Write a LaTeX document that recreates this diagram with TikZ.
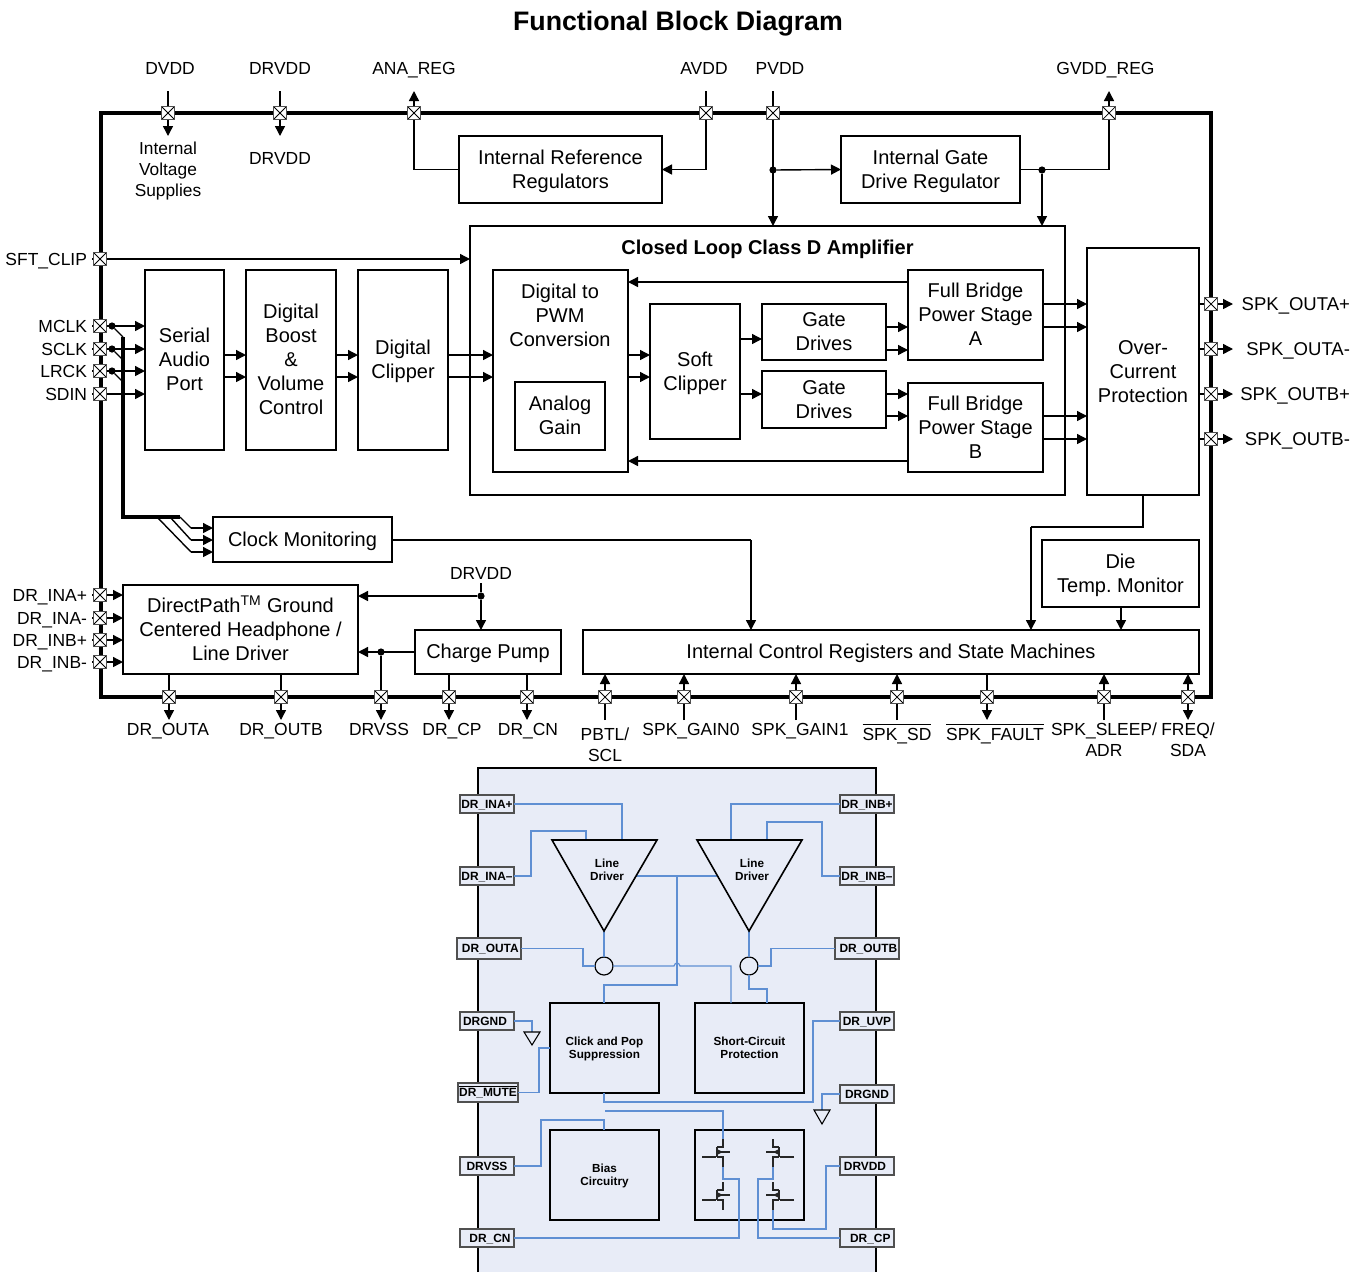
\documentclass[tikz,border=0pt]{standalone}
\usepackage{fontspec}
\setmainfont{Liberation Sans}
\usetikzlibrary{arrows.meta,calc}
\definecolor{panelc}{HTML}{E8ECF7}
\definecolor{wirec}{HTML}{5F8FD3}
\definecolor{padc}{HTML}{505050}
\newcommand\ovl[2][1.4pt]{\leavevmode\vbox{\hrule height 0.7pt\kern#1\hbox{#2}}}
\newcommand\blk[6]{\node[blockbox,minimum width={(#4-#2)*0.75pt},minimum height={(#5-#3)*0.75pt}] (#1) at ({(#2+#4)/2},{(#3+#5)/2}) {\raisebox{-1.3pt}[\height][\depth]{\begin{tabular}{@{}c@{}}#6\end{tabular}}};}
\newcommand\sblk[6]{\node[smallbox,minimum width={(#4-#2)*0.75pt},minimum height={(#5-#3)*0.75pt}] (#1) at ({(#2+#4)/2},{(#3+#5)/2}) {\raisebox{-1.0pt}[\height][\depth]{\begin{tabular}{@{}c@{}}#6\end{tabular}}};}
\newcommand\tagg[6]{\node[tagbox,minimum width={(#4-#2)*0.75pt},minimum height={(#5-#3)*0.75pt}] (#1) at ({(#2+#4)/2},{(#3+#5)/2}) {#6};}
\newcommand\padat[3]{\node[padbox] (#1) at (#2,#3) {};}
\newcommand\fet[4]{%
\begin{scope}[shift={(#2,#3)},xscale=#4,fetline]
\coordinate (#1d) at (0,-18);
\coordinate (#1s) at (0,10);
\draw (-21,0) -- (-7,0);
\draw[line width=1.2pt] (-6,-10) -- (-6,0);
\draw (-6,-10) -- (0,-10) -- (#1d);
\draw (-6,0) -- (0,0) -- (#1s);
\draw (-6,-5) -- (7,-5);
\draw[-{Triangle[length=4.4pt,width=4pt]}] (-6,-5) -- (0,-5);
\end{scope}}
\tikzset{
 x=0.75pt,y=-0.75pt,
 blockbox/.style={draw=black,fill=white,line width=1.1pt,inner sep=0pt,outer sep=0pt,font=\fontsize{15}{18}\selectfont},
 smallbox/.style={draw=black,fill=none,line width=1.2pt,inner sep=0pt,outer sep=0pt,font=\bfseries\fontsize{8.8}{9.75}\selectfont},
 tagbox/.style={draw=padc,fill=panelc,line width=1pt,inner sep=0pt,outer sep=0pt,text height=6.3pt,text depth=0pt,font=\bfseries\fontsize{8.95}{10}\selectfont},
 padbox/.style={draw=padc,fill=white,line width=.75pt,minimum size=10.4pt,inner sep=0pt,outer sep=0pt,
   path picture={\draw[black,line width=.55pt] (path picture bounding box.south west) -- (path picture bounding box.north east) (path picture bounding box.north west) -- (path picture bounding box.south east);}},
 lab/.style={inner sep=0pt,outer sep=0pt,align=center,font=\fontsize{13.1}{15.8}\selectfont},
 lbl/.style={lab,anchor=base,yshift=-4.7pt},
 lble/.style={lab,anchor=base east,yshift=-4.7pt},
 lblr/.style={lble,font=\fontsize{13.9}{16}\selectfont},
 txt/.style={inner sep=0pt,outer sep=0pt,align=center,font=\fontsize{15}{18}\selectfont},
 wire/.style={line width=1.05pt,black},
 arr/.style={line width=1.05pt,black,-{Triangle[length=7.5pt,width=7.5pt]}},
 dot/.style={circle,fill=black,inner sep=0pt,outer sep=0pt,minimum size=5.4pt},
 busline/.style={line width=2.4pt,black},
 bluew/.style={line width=.9pt,wirec},
 fetline/.style={line width=.85pt,black!85},
}
\begin{document}
\begin{tikzpicture}
\useasboundingbox (0,0) rectangle (1364,1272);
\node[inner sep=0pt,anchor=base,yshift=-7.2pt,font=\bfseries\fontsize{20.05}{22}\selectfont] (title) at (678,21) {Functional Block Diagram};
% chip outline
\coordinate (o1) at (101,113); \coordinate (o2) at (1211,697);
\draw[line width=2.4pt,black] (o1) rectangle (o2);
% lower panel
\coordinate (pa) at (478,1272); \coordinate (pb) at (478,768); \coordinate (pc) at (876,768); \coordinate (pd) at (876,1272);
\fill[panelc] (pa) -- (pb) -- (pc) -- (pd) -- cycle;
\draw[line width=1.5pt,black] (pa) -- (pb) -- (pc) -- (pd);
% blocks
\blk{irr}{459}{136}{662}{203}{Internal Reference\\Regulators}
\blk{igd}{841}{136}{1020}{203}{Internal Gate\\Drive Regulator}
\blk{cl}{470}{226}{1065}{495}{}
\node[inner sep=0pt,anchor=base,yshift=-5.4pt,font=\bfseries\fontsize{15}{18}\selectfont] (cltitle) at (767.5,247) {Closed Loop Class D Amplifier};
\blk{sap}{145}{270}{224}{450}{Serial\\Audio\\Port}
\blk{boost}{246}{270}{336}{450}{Digital\\Boost\\\&\\Volume\\Control}
\blk{clip}{358}{270}{448}{450}{Digital\\Clipper}
\blk{pwm}{493}{270}{628}{472}{}
\node[txt] (pwmt) at (560,315) {Digital to\\PWM\\Conversion};
\blk{gain}{515}{382}{605}{450}{Analog\\Gain}
\blk{soft}{650}{304}{740}{439}{Soft\\Clipper}
\blk{gda}{762}{304}{886}{360}{Gate\\Drives}
\blk{gdb}{762}{371}{886}{428}{Gate\\Drives}
\blk{fba}{908}{270}{1043}{360}{Full Bridge\\Power Stage\\A}
\blk{fbb}{908}{383}{1043}{472}{Full Bridge\\Power Stage\\B}
\blk{ocp}{1087}{248}{1199}{495}{Over-\\Current\\Protection}
\blk{clkm}{213}{517}{392}{562}{Clock Monitoring}
\blk{dp}{123}{585}{358}{674}{DirectPath\smash{\textsuperscript{TM}} Ground\\Centered Headphone /\\Line Driver}
\blk{cp}{415}{630}{561}{674}{Charge Pump}
\blk{icr}{583}{630}{1199}{674}{Internal Control Registers and State Machines}
\blk{die}{1042}{540}{1199}{607}{Die\\Temp.\ Monitor}
% top pads
\padat{pdvdd}{168}{113} \padat{pdrvdd}{280}{113} \padat{pana}{414}{113} \padat{pavdd}{706}{113} \padat{ppvdd}{773}{113} \padat{pgvdd}{1109}{113}
\node[lbl] (ldvdd) at (170,68) {DVDD};
\node[lbl] (ldrvdd) at (280,68) {DRVDD};
\node[lbl] (lana) at (414,68) {ANA\_REG};
\node[lbl] (lavdd) at (704,68) {AVDD};
\node[lbl] (lpvdd) at (780,68) {PVDD};
\node[lbl] (lgvdd) at (1105.5,68) {GVDD\_REG};
\node[lab,font=\fontsize{13}{15.8}\selectfont] (livs) at (168,171) {Internal\\Voltage\\Supplies};
\node[lbl] (ldrvdd2) at (280,158) {DRVDD};
\coordinate (t1) at (168,91); \coordinate (t2) at (280,91); \coordinate (t3) at (414,91); \coordinate (t4) at (706,91); \coordinate (t5) at (773,91); \coordinate (t6) at (1109,91);
\coordinate (b1) at (168,136); \coordinate (b2) at (280,136);
\draw[wire] (t1) -- (pdvdd); \draw[arr] (pdvdd) -- (b1);
\draw[wire] (t2) -- (pdrvdd); \draw[arr] (pdrvdd) -- (b2);
\draw[arr] (pana) -- (t3);
\draw[wire] (pana) |- (irr.west);
\draw[wire] (t4) -- (pavdd);
\draw[arr] (pavdd) |- (irr.east);
\draw[wire] (t5) -- (ppvdd);
\node[dot] (j1) at (773,170) {};
\draw[arr] (ppvdd) -- (cl.north -| ppvdd);
\draw[arr] (j1) -- (igd.west);
\draw[arr] (pgvdd) -- (t6);
\draw[wire] (igd.east) -| (pgvdd);
\node[dot] (j2) at (1042,170) {};
\draw[arr] (j2) -- (cl.north -| j2);
% left pads
\padat{psft}{100}{259} \padat{pmclk}{100}{326} \padat{psclk}{100}{349} \padat{plrck}{100}{371} \padat{psdin}{100}{394}
\node[lble] (lsft) at (87,259) {SFT\_CLIP};
\node[lble] (lmclk) at (87,326) {MCLK};
\node[lble] (lsclk) at (87,349) {SCLK};
\node[lble] (llrck) at (87,371) {LRCK};
\node[lble] (lsdin) at (87,394) {SDIN};
\foreach \b in {psft,pmclk,psclk,plrck,psdin}{\coordinate (tk) at ([xshift=-6pt]\b.center); \draw[wire,line width=.8pt] (tk) -- (\b);}
\draw[arr] (psft) -- (cl.west |- psft);
\draw[arr] (pmclk) -- (sap.west |- pmclk);
\draw[arr] (psclk) -- (sap.west |- psclk);
\draw[arr] (plrck) -- (sap.west |- plrck);
\draw[arr] (psdin) -- (sap.west |- psdin);
\node[dot] (jm) at (112,326) {}; \node[dot] (js) at (112,349) {}; \node[dot] (jl) at (112,371) {};
\coordinate (bu0) at (123,337); \coordinate (bu1) at (123,360); \coordinate (bu2) at (123,382);
\coordinate (bu3) at (123,517); \coordinate (bu4) at (180,517);
\draw[wire] (jm) -- (bu0); \draw[wire] (js) -- (bu1); \draw[wire] (jl) -- (bu2);
\draw[busline,line join=miter] (bu0) -- (bu3) -- (bu4);
\coordinate (d1) at (180,517); \coordinate (d2) at (170,517); \coordinate (d3) at (157,517);
\coordinate (e1) at (191,528); \coordinate (e2) at (191,540); \coordinate (e3) at (191,552);
\draw[wire] (d1) -- (e1); \draw[wire] (d2) -- (e2); \draw[wire] (d3) -- (e3);
\draw[arr] (e1) -- (clkm.west |- e1); \draw[arr] (e2) -- (clkm.west |- e2); \draw[arr] (e3) -- (clkm.west |- e3);
% internal arrows
\coordinate (y1) at (0,355); \coordinate (y2) at (0,377);
\foreach \a/\b in {sap/boost,boost/clip,clip/pwm,pwm/soft}{
 \draw[arr] (\a.east |- y1) -- (\b.west |- y1);
 \draw[arr] (\a.east |- y2) -- (\b.west |- y2);}
\coordinate (y3) at (0,339); \coordinate (y4) at (0,394);
\draw[arr] (soft.east |- y3) -- (gda.west |- y3);
\draw[arr] (soft.east |- y4) -- (gdb.west |- y4);
\coordinate (y5) at (0,327); \coordinate (y6) at (0,350); \coordinate (y7) at (0,416);
\draw[arr] (gda.east |- y5) -- (fba.west |- y5);
\draw[arr] (gda.east |- y6) -- (fba.west |- y6);
\draw[arr] (gdb.east |- y4) -- (fbb.west |- y4);
\draw[arr] (gdb.east |- y7) -- (fbb.west |- y7);
\coordinate (y8) at (0,304); \coordinate (y9) at (0,439);
\draw[arr] (fba.east |- y8) -- (ocp.west |- y8);
\draw[arr] (fba.east |- y5) -- (ocp.west |- y5);
\draw[arr] (fbb.east |- y7) -- (ocp.west |- y7);
\draw[arr] (fbb.east |- y9) -- (ocp.west |- y9);
\coordinate (y10) at (0,282); \coordinate (y11) at (0,461);
\draw[arr] (fba.west |- y10) -- (pwm.east |- y10);
\draw[arr] (fbb.west |- y11) -- (pwm.east |- y11);
% right pads
\padat{poa}{1211}{304} \padat{pob}{1211}{349} \padat{pob2}{1211}{394} \padat{pob3}{1211}{439}
\node[lblr] (loa) at (1350,304) {SPK\_OUTA+};
\node[lblr] (lob) at (1350,349) {SPK\_OUTA-};
\node[lblr] (lob2) at (1350,394) {SPK\_OUTB+};
\node[lblr] (lob3) at (1350,439) {SPK\_OUTB-};
\foreach \p/\e in {poa/r1,pob/r2,pob2/r3,pob3/r4}{
 \coordinate (\e) at ([xshift=16.5pt]\p.center);
 \draw[wire] (\p) -- (ocp.east |- \p);
 \draw[arr] (\p) -- (\e);}
% clock/ocp/die to control
\coordinate (ck) at (751,540); \coordinate (oc1) at (1143,527); \coordinate (oc2) at (1031,527);
\draw[wire] (clkm.east |- ck) -- (ck);
\draw[arr] (ck) -- (icr.north -| ck);
\draw[wire] (ocp.south -| oc1) -- (oc1) -- (oc2);
\draw[arr] (oc2) -- (icr.north -| oc2);
\coordinate (dd) at (1121,600);
\draw[arr] (die.south -| dd) -- (icr.north -| dd);
% DR section
\node[lbl] (ldr) at (481,573) {DRVDD};
\node[dot] (j3) at (481,596) {};
\coordinate (ldrb) at (481,583);
\draw[wire] (ldrb) -- (j3);
\draw[arr] (j3) -- (cp.north -| j3);
\draw[arr] (j3) -- (dp.east |- j3);
\padat{pa1}{100}{595} \padat{pa2}{100}{618} \padat{pa3}{100}{640} \padat{pa4}{100}{662}
\node[lble] (la1) at (87,595) {DR\_INA+};
\node[lble] (la2) at (87,618) {DR\_INA-};
\node[lble] (la3) at (87,640) {DR\_INB+};
\node[lble] (la4) at (87,662) {DR\_INB-};
\foreach \b in {pa1,pa2,pa3,pa4}{
 \coordinate (tk) at ([xshift=-6pt]\b.center);
 \draw[wire,line width=.8pt] (tk) -- (\b);
 \draw[arr] (\b) -- (dp.west |- \b);}
\node[dot] (j4) at (381,652) {};
\draw[arr] (cp.west) -- (dp.east |- cp.west);
% bottom pads
\padat{pba}{169}{697} \padat{pbb}{281}{697} \padat{pbc}{381}{697} \padat{pbd}{449}{697} \padat{pbe}{527}{697}
\padat{pbf}{605}{697} \padat{pbg}{684}{697} \padat{pbh}{796}{697} \padat{pbi}{897}{697} \padat{pbj}{987}{697} \padat{pbk}{1104}{697} \padat{pbl}{1188}{697}
\node[lbl] (lba) at (168,729) {DR\_OUTA};
\node[lbl] (lbb) at (281,729) {DR\_OUTB};
\node[lbl] (lbc) at (379,729) {DRVSS};
\node[lbl] (lbd) at (452,729) {DR\_CP};
\node[lbl] (lbe) at (528,729) {DR\_CN};
\node[lab] (lbf) at (605,745) {PBTL/\\SCL};
\node[lbl] (lbg) at (691,729) {SPK\_GAIN0};
\node[lbl] (lbh) at (800,729) {SPK\_GAIN1};
\node[lbl] (lbi) at (897,734) {\ovl[2.6pt]{SPK\_SD}};
\node[lbl] (lbj) at (995,734) {\ovl[2.6pt]{SPK\_FAULT}};
\node[lab] (lbk) at (1104,739.5) {SPK\_SLEEP/\\ADR};
\node[lab] (lbl) at (1188,740) {FREQ/\\SDA};
\foreach \p/\e in {pba/q1,pbb/q2,pbc/q3,pbd/q4,pbe/q5}{
 \coordinate (\e) at ([yshift=-17.25pt]\p.center);
 \draw[arr] (\p) -- (\e);}
\draw[wire] (pba) -- (dp.south -| pba);
\draw[wire] (pbb) -- (dp.south -| pbb);
\draw[wire] (pbc) -- (j4);
\draw[wire] (pbd) -- (cp.south -| pbd);
\draw[wire] (pbe) -- (cp.south -| pbe);
\foreach \p/\e in {pbf/s1,pbg/s2,pbh/s3,pbi/s4,pbk/s5}{
 \coordinate (\e) at ([yshift=-17.25pt]\p.center);
 \draw[wire] (\e) -- (\p);
 \draw[arr] (\p) -- (icr.south -| \p);}
\draw[wire] (pbj) -- (icr.south -| pbj);
\coordinate (s6) at ([yshift=-17.25pt]pbj.center);
\draw[arr] (pbj) -- (s6);
\draw[arr] (pbl) -- (icr.south -| pbl);
\coordinate (s7) at ([yshift=-17.25pt]pbl.center);
\draw[arr] (pbl) -- (s7);
% ---- lower figure ----
\tagg{tina}{460}{795}{514}{813}{DR\_INA+}
\tagg{tinb}{460}{867}{514}{885}{DR\_INA--}
\tagg{touta}{457}{938}{521}{959}{\hspace{2pt}DR\_OUTA}
\tagg{tgl}{460}{1012}{514}{1030}{\hspace{-3pt}DRGND}
\tagg{tmute}{458}{1083}{518}{1102}{\ovl[1.2pt]{DR\_MUTE}}
\tagg{tvss}{460}{1157}{514}{1175}{DRVSS}
\tagg{tcn}{460}{1229}{514}{1247}{\hspace{4.5pt}DR\_CN}
\tagg{trina}{840}{795}{894}{813}{DR\_INB+}
\tagg{trinb}{840}{867}{894}{885}{DR\_INB--}
\tagg{toutb}{835}{938}{899}{959}{\hspace{2pt}DR\_OUTB}
\tagg{tuvp}{840}{1012}{894}{1030}{DR\_UVP}
\tagg{tgr}{840}{1085}{894}{1103}{DRGND}
\tagg{tvdd}{840}{1157}{894}{1175}{\hspace{-3pt}DRVDD}
\tagg{tcp}{840}{1229}{894}{1247}{\hspace{5pt}DR\_CP}
\sblk{click}{550}{1003}{659}{1093}{Click and Pop\\Suppression}
\sblk{short}{695}{1003}{804}{1093}{Short-Circuit\\Protection}
\sblk{bias}{550}{1130}{659}{1220}{Bias\\Circuitry}
\sblk{fets}{695}{1130}{804}{1220}{}
% triangles
\coordinate (ta1) at (552,840); \coordinate (ta2) at (657,840); \coordinate (ta3) at (604,931);
\coordinate (tb1) at (697,840); \coordinate (tb2) at (802,840); \coordinate (tb3) at (749,931);
\coordinate (cjA) at (636,876); \coordinate (cjB) at (717,876);
% blue wires
\draw[bluew] (tina.east) -| (622,0 |- ta1);
\coordinate (ina1) at (531,831); \coordinate (ina2) at (586,831);
\draw[bluew] (tinb.east) -| (ina1) -- (ina2) -- (ina2 |- ta1);
\draw[bluew] (trina.west) -| (731,0 |- tb1);
\coordinate (inb1) at (822,822); \coordinate (inb2) at (767,822);
\draw[bluew] (trinb.west) -| (inb1) -- (inb2) -- (inb2 |- tb1);
\draw[bluew] (cjA) -- (cjB);
\coordinate (m0) at (677,876); \coordinate (m1) at (677,985); \coordinate (m2) at (604,985);
\draw[bluew] (m0) -- (m1) -- (m2) -- (click.north -| m2);
\node[circle,draw=black,line width=.9pt,inner sep=0pt,outer sep=0pt,minimum size=13.5pt] (ca) at (604,966) {};
\node[circle,draw=black,line width=.9pt,inner sep=0pt,outer sep=0pt,minimum size=13.5pt] (cb) at (749,966) {};
\draw[bluew] (ta3) -- (ca);
\draw[bluew] (tb3) -- (cb);
\draw[bluew] (touta.east) -| (583,0 |- ca) -- (ca);
\draw[bluew] (toutb.west) -| (771,0 |- cb) -- (cb);
\coordinate (h1) at (674,966); \coordinate (h2) at (680,966); \coordinate (h3) at (731,966);
\draw[bluew] (ca) -- (h1) .. controls (675,962) and (679,962) .. (h2) -- (h3) -- (short.north -| h3);
\coordinate (k1) at (749,989); \coordinate (k2) at (767,989);
\draw[bluew] (cb) -- (k1) -- (k2) -- (short.north -| k2);
% grounds
\coordinate (gl) at (532,1032); \coordinate (gla) at (524,1032); \coordinate (glb) at (540,1032); \coordinate (glc) at (532,1045);
\draw[bluew] (tgl.east) -| (gl);
\draw[line width=.8pt,black] (gla) -- (glb) -- (glc) -- cycle;
\coordinate (gr) at (822,1110); \coordinate (gra) at (814,1110); \coordinate (grb) at (830,1110); \coordinate (grc) at (822,1124);
\draw[bluew] (tgr.west) -| (gr);
\draw[line width=.8pt,black] (gra) -- (grb) -- (grc) -- cycle;
\coordinate (mu1) at (539,1048);
\draw[bluew] (click.west |- mu1) -- (mu1) |- (tmute.east);
\coordinate (uv1) at (604,1102); \coordinate (uv2) at (813,1102);
\draw[bluew] (click.south -| uv1) -- (uv1) -- (uv2) |- (tuvp.west);
\coordinate (bi1) at (604,1120); \coordinate (bi2) at (541,1120);
\draw[bluew] (bias.north -| bi1) -- (bi1) -- (bi2) |- (tvss.east);
% FETs
\fet{fa}{723}{1157}{1}
\fet{fb}{773}{1157}{-1}
\fet{fc}{723}{1200}{1}
\fet{fd}{773}{1200}{-1}
\coordinate (fe1) at (605,1111); \coordinate (fe2) at (723,1111);
\draw[bluew] (fe1) -- (fe2) -- (fad);
\coordinate (cn1) at (723,1179); \coordinate (cn2) at (739,1179);
\draw[bluew] (fas) -- (cn1) -- (cn2) |- (tcn.east);
\coordinate (cp1) at (773,1179); \coordinate (cp2) at (758,1179);
\draw[bluew] (fbs) -- (cp1) -- (cp2) |- (tcp.west);
\coordinate (vd1) at (773,1229); \coordinate (vd2) at (826,1229);
\draw[bluew] (fds) -- (vd1) -- (vd2) |- (tvdd.west);
% triangle outlines on top of wires
\draw[line width=1.2pt,black,fill=panelc] (ta1) -- (ta2) -- (ta3) -- cycle;
\draw[line width=1.2pt,black,fill=panelc] (tb1) -- (tb2) -- (tb3) -- cycle;
\node[inner sep=0pt,align=center,font=\bfseries\fontsize{8.8}{9.6}\selectfont] (lda) at (607,870) {Line\\Driver};
\node[inner sep=0pt,align=center,font=\bfseries\fontsize{8.8}{9.6}\selectfont] (ldb) at (752,870) {Line\\Driver};
\end{tikzpicture}
\end{document}
